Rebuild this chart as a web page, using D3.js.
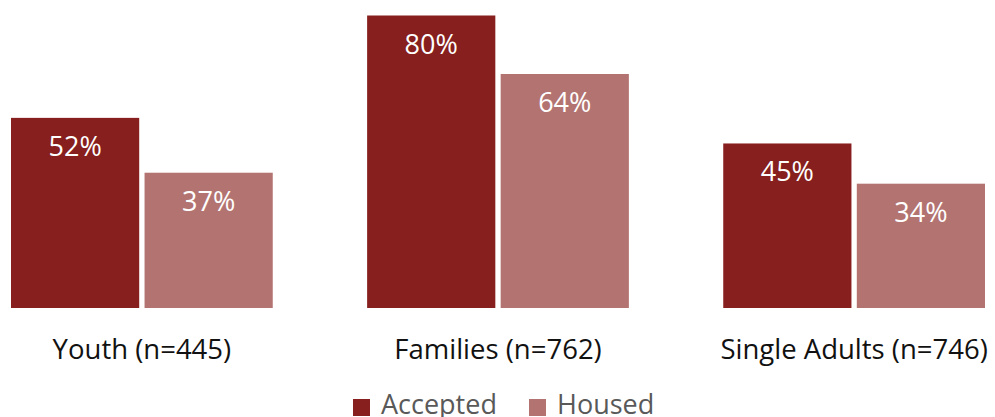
<!DOCTYPE html>
<html>
<head>
<meta charset="utf-8">
<script src="https://cdn.jsdelivr.net/npm/d3@7"></script>
<style>
  html, body { margin: 0; padding: 0; background: #fff; }
  svg { display: block; }
  text { font-family: "Open Sans", Lato, sans-serif; }
</style>
</head>
<body>
<svg id="chart" width="995" height="417"></svg>
<script>
// Share of households accepted vs. housed, by population
const categories = ["Youth (n=445)", "Families (n=762)", "Single Adults (n=746)"];
const seriesNames = ["Accepted", "Housed"];
const accepted = [52, 80, 45];
const housed = [37, 64, 34];
const colors = { Accepted: "#861f1d", Housed: "#b37471" };

const rows = categories.map((c, i) => ({ category: c, Accepted: accepted[i], Housed: housed[i] }));

const svg = d3.select("#chart");
const baseline = 308;

const x0 = d3.scaleBand().domain(categories).range([11, 985]).paddingInner(0.265).paddingOuter(0);
const x1 = d3.scaleBand().domain(seriesNames).range([0, x0.bandwidth()]).paddingInner(0.04).paddingOuter(0);
const y = d3.scaleLinear().domain([0, 80]).range([baseline, 15.5]);

const groups = svg.append("g").selectAll("g")
  .data(rows)
  .join("g")
  .attr("transform", d => `translate(${x0(d.category)},0)`);

const bars = groups.selectAll("g.bar")
  .data(d => seriesNames.map(k => ({ key: k, value: d[k] })))
  .join("g")
  .attr("class", "bar");

bars.append("rect")
  .attr("x", d => x1(d.key))
  .attr("y", d => y(d.value))
  .attr("width", x1.bandwidth())
  .attr("height", d => baseline - y(d.value))
  .attr("fill", d => colors[d.key]);

bars.append("text")
  .attr("x", d => x1(d.key) + x1.bandwidth() / 2)
  .attr("y", d => y(d.value) + 38)
  .attr("text-anchor", "middle")
  .attr("fill", "#ffffff")
  .attr("font-size", 27)
  .text(d => d.value + "%");

// Category axis labels (no axis line or ticks)
const xAxis = d3.axisBottom(x0).tickSize(0).tickPadding(0);
const axisG = svg.append("g").attr("transform", `translate(0,${baseline})`).call(xAxis);
axisG.select(".domain").remove();
axisG.selectAll("text")
  .attr("dy", null)
  .attr("y", 51)
  .attr("fill", "#111")
  .attr("font-size", 27.5)
  .attr("font-family", "'Open Sans', Lato, sans-serif");

// Legend
const legendItems = [
  { key: "Accepted", x: 353 },
  { key: "Housed", x: 529 }
];
const legend = svg.append("g");
const li = legend.selectAll("g").data(legendItems).join("g")
  .attr("transform", d => `translate(${d.x},0)`);
li.append("rect")
  .attr("x", 0).attr("y", 399)
  .attr("width", 17).attr("height", 17)
  .attr("fill", d => colors[d.key]);
li.append("text")
  .attr("x", 28).attr("y", 414)
  .attr("fill", "#595959")
  .attr("font-size", 27)
  .text(d => d.key);
</script>
</body>
</html>
